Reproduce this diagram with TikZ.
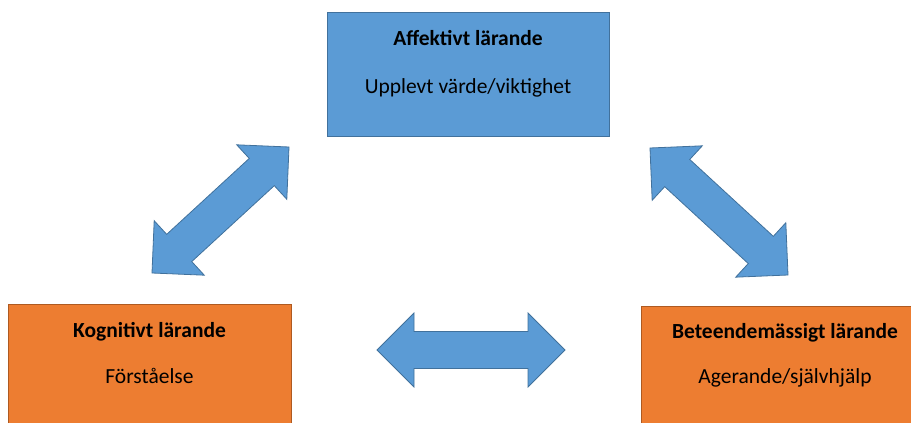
\documentclass[tikz,border=0pt]{standalone}
\usepackage{fontspec}
\setmainfont{Carlito}
\usepackage{tikz}
\usetikzlibrary{arrows.meta, positioning, calc}
\definecolor{boxblue}{HTML}{5B9BD5}
\definecolor{edgeblue}{HTML}{41719C}
\definecolor{boxorange}{HTML}{ED7D31}
\definecolor{edgeorange}{HTML}{AE5A21}

% block arrow with a head at both ends, from coordinate #1 to coordinate #2
\newcommand{\blockarrow}[2]{%
  \coordinate (#1h) at ($(#1)!37pt!(#2)$);
  \coordinate (#2h) at ($(#2)!37pt!(#1)$);
  \draw[blkarr] (#1) -- ($(#1h)!37pt!90:(#2)$) -- ($(#1h)!18.5pt!90:(#2)$)
    -- ($(#2h)!18.5pt!-90:(#1)$) -- ($(#2h)!37pt!-90:(#1)$) -- (#2)
    -- ($(#2h)!37pt!90:(#1)$) -- ($(#2h)!18.5pt!90:(#1)$)
    -- ($(#1h)!18.5pt!-90:(#2)$) -- ($(#1h)!37pt!-90:(#2)$) -- cycle;
}

\begin{document}
\begin{tikzpicture}[x=1pt, y=1pt,
      lbox/.style={draw=edgeblue, fill=boxblue, line width=0.8pt,
                   minimum height=124pt, inner sep=0pt},
      obox/.style={draw=edgeorange, fill=boxorange, line width=0.8pt,
                   minimum height=124pt, inner sep=0pt},
      ttl/.style={anchor=base, inner sep=0pt,
                  font=\fontsize{21.5}{25}\selectfont\bfseries},
      sub/.style={anchor=base, inner sep=0pt,
                  font=\fontsize{21.5}{25}\selectfont},
      blkarr/.style={draw=edgeblue, fill=boxblue, line width=0.8pt,
                     line join=miter}
    ]
      \clip (0,0) rectangle (911,-423);

      % Affektivt
      \node[lbox, minimum width=282pt] (aff) at (468,-74) {};
      \node[ttl] (affT) at ([yshift=-34]aff.north) {Affektivt lärande};
      \node[sub] (affS) at ([yshift=-82]aff.north) {Upplevt värde/viktighet};

      % Kognitivt
      \node[obox, minimum width=283pt] (kog) at (149.5,-366) {};
      \node[ttl] (kogT) at ([yshift=-33.5]kog.north) {Kognitivt lärande};
      \node[sub] (kogS) at ([yshift=-80]kog.north) {Förståelse};

      % Beteende
      \node[obox, minimum width=288pt] (bet) at (785,-368) {};
      \node[ttl] (betT) at ([yshift=-33]bet.north) {Beteendemässigt lärande};
      \node[sub] (betS) at ([yshift=-78]bet.north) {Agerande/självhjälp};

      % block arrows
      \coordinate (kogA) at (152,-273);
      \coordinate (affK) at (289,-147);
      \coordinate (affB) at (650,-148);
      \coordinate (betA) at (788,-275);
      \coordinate (kogB) at (377,-350);
      \coordinate (betK) at (565,-350);
      \blockarrow{kogA}{affK}
      \blockarrow{affB}{betA}
      \blockarrow{kogB}{betK}
    \end{tikzpicture}
\end{document}
